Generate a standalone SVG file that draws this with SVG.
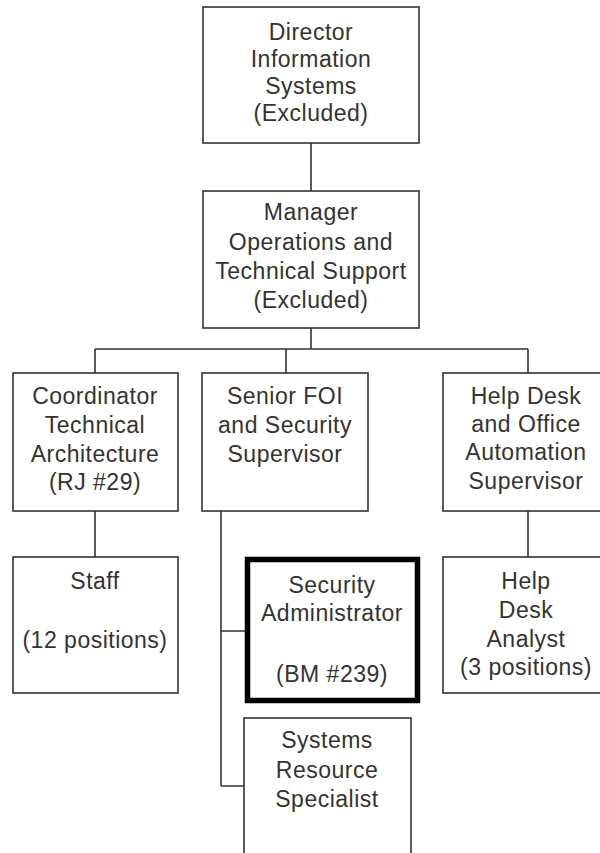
<svg xmlns="http://www.w3.org/2000/svg" width="600" height="853" viewBox="0 0 600 853">
<style>
.box{fill:#fff;stroke:#333;stroke-width:1.6}
.thick{fill:#fff;stroke:#000;stroke-width:5.5}
.ln{stroke:#333;stroke-width:1.6;fill:none}
text{font-family:"Liberation Sans",Arial,sans-serif;font-size:23px;fill:#333;text-anchor:middle;letter-spacing:0.5px}
</style>
<rect width="600" height="853" fill="#fff"/>
<g id="connectors">
<path class="ln" d="M311 143V191M311 328V349M95 349H528M95 349V373M286 349V373M528 349V373M95 511V557M528 511V557M221 511V786M221 631H246M221 786H244"/>
</g>
<g id="director">
<rect class="box" x="203" y="7" width="216" height="136"/>
<text x="311" y="40">Director</text>
<text x="311" y="67">Information</text>
<text x="311" y="94">Systems</text>
<text x="311" y="121">(Excluded)</text>
</g>
<g id="manager">
<rect class="box" x="203" y="191" width="216" height="137"/>
<text x="311" y="220">Manager</text>
<text x="311" y="250">Operations and</text>
<text x="311" y="279">Technical Support</text>
<text x="311" y="308">(Excluded)</text>
</g>
<g id="coordinator">
<rect class="box" x="13" y="373" width="165" height="138"/>
<text x="95" y="404">Coordinator</text>
<text x="95" y="433">Technical</text>
<text x="95" y="462">Architecture</text>
<text x="95" y="490">(RJ #29)</text>
</g>
<g id="senior">
<rect class="box" x="202" y="373" width="166" height="138"/>
<text x="285" y="404">Senior FOI</text>
<text x="285" y="433">and Security</text>
<text x="285" y="462">Supervisor</text>
</g>
<g id="helpdesk">
<rect class="box" x="443" y="373" width="166" height="138"/>
<text x="526" y="404">Help Desk</text>
<text x="526" y="432">and Office</text>
<text x="526" y="460">Automation</text>
<text x="526" y="489">Supervisor</text>
</g>
<g id="staff">
<rect class="box" x="13" y="557" width="165" height="136"/>
<text x="95" y="589">Staff</text>
<text x="95" y="648">(12 positions)</text>
</g>
<g id="security">
<rect class="thick" x="247.5" y="559.5" width="170" height="141"/>
<text x="332" y="593">Security</text>
<text x="332" y="621">Administrator</text>
<text x="332" y="682">(BM #239)</text>
</g>
<g id="analyst">
<rect class="box" x="443" y="557" width="166" height="136"/>
<text x="526" y="589">Help</text>
<text x="526" y="618">Desk</text>
<text x="526" y="647">Analyst</text>
<text x="526" y="675">(3 positions)</text>
</g>
<g id="systems">
<rect class="box" x="244" y="718" width="167" height="150"/>
<text x="327" y="748">Systems</text>
<text x="327" y="778">Resource</text>
<text x="327" y="807">Specialist</text>
</g>
</svg>
